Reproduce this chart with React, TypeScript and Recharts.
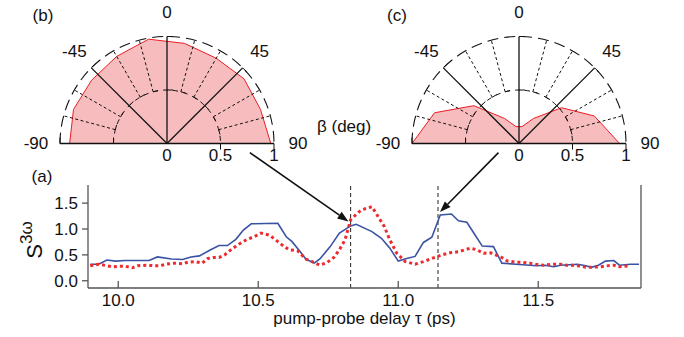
import React from "react";
import {
  LineChart,
  Line,
  XAxis,
  YAxis,
  ReferenceLine,
  RadarChart,
  Radar,
  PolarAngleAxis,
  PolarRadiusAxis,
  Customized,
} from "recharts";

const FONT = '"Liberation Sans", Arial, Helvetica, sans-serif';

// (a) S^3w versus pump-probe delay
const blueTau = [
  9.9, 9.93, 9.96, 9.99, 10.025, 10.11, 10.14, 10.19, 10.23, 10.26, 10.29, 10.33, 10.36, 10.39, 10.42,
  10.447, 10.475, 10.57, 10.6, 10.62, 10.65, 10.67, 10.7, 10.72, 10.757, 10.79, 10.83, 10.85, 10.906,
  10.94, 10.97, 11.0, 11.03, 11.06, 11.09, 11.12, 11.15, 11.19, 11.215, 11.245, 11.275, 11.3, 11.34,
  11.37, 11.42, 11.495, 11.525, 11.555, 11.58, 11.64, 11.67, 11.69, 11.715, 11.74, 11.77, 11.79, 11.83,
  11.86,
];
const blueS = [
  0.32, 0.32, 0.4, 0.38, 0.39, 0.39, 0.46, 0.42, 0.41, 0.46, 0.48, 0.6, 0.68, 0.68, 0.8,
  0.98, 1.1, 1.11, 0.85, 0.76, 0.56, 0.42, 0.34, 0.42, 0.66, 0.92, 1.06, 1.09, 0.95,
  0.82, 0.63, 0.38, 0.43, 0.47, 0.74, 0.84, 1.27, 1.29, 1.16, 1.13, 0.88, 0.67, 0.66,
  0.34, 0.32, 0.29, 0.3, 0.27, 0.3, 0.32, 0.29, 0.26, 0.3, 0.38, 0.39, 0.3, 0.32,
  0.32,
];
const redTau = [
  9.9, 9.93, 9.96, 9.98, 10.0, 10.025, 10.05, 10.07, 10.1, 10.13, 10.15, 10.17, 10.2, 10.23, 10.25,
  10.275, 10.3, 10.32, 10.34, 10.36, 10.38, 10.405, 10.435, 10.46, 10.485, 10.51, 10.54, 10.56, 10.59,
  10.61, 10.64, 10.67, 10.7, 10.72, 10.745, 10.77, 10.79, 10.81, 10.83, 10.86, 10.87, 10.906, 10.92,
  10.95, 10.97, 10.995, 11.025, 11.06, 11.09, 11.12, 11.155, 11.185, 11.215, 11.257, 11.28, 11.305,
  11.33, 11.37, 11.39, 11.42, 11.44, 11.47, 11.49, 11.52, 11.55, 11.58, 11.6, 11.62, 11.65, 11.67,
  11.69, 11.72, 11.74, 11.77, 11.79, 11.82,
];
const redS = [
  0.29, 0.32, 0.29, 0.27, 0.28, 0.28, 0.25, 0.29, 0.3, 0.29, 0.29, 0.32, 0.34, 0.33, 0.36,
  0.37, 0.34, 0.43, 0.45, 0.45, 0.5, 0.61, 0.72, 0.8, 0.85, 0.92, 0.88, 0.8, 0.67,
  0.6, 0.58, 0.42, 0.35, 0.3, 0.35, 0.45, 0.6, 0.79, 1.18, 1.33, 1.37, 1.43, 1.31,
  1.05, 0.79, 0.53, 0.37, 0.32, 0.37, 0.43, 0.5, 0.54, 0.56, 0.63, 0.6, 0.53,
  0.54, 0.45, 0.38, 0.36, 0.355, 0.34, 0.32, 0.3, 0.32, 0.32, 0.3, 0.3, 0.285, 0.26,
  0.26, 0.27, 0.285, 0.3, 0.27, 0.285,
];

const tauTicks = [10, 10.5, 11, 11.5];
const sTicks = [0, 0.5, 1, 1.5];
const markerTau = [10.83, 11.142];

// arrows: from the polar panels down to the two markers (tau, S)
const arrowFrom = [
  { x: 10.47, y: 2.475 },
  { x: 11.358, y: 2.475 },
];
const arrowTo = [
  { x: 10.822, y: 1.147 },
  { x: 11.149, y: 1.326 },
];

// (b), (c) polar amplitude vs beta
const betaDeg = [-90, -70, -50, -30, -10, 10, 30, 50, 70, 90];
const ampB = [0.91, 0.93, 0.92, 0.94, 0.99, 0.95, 0.92, 0.94, 0.93, 0.97];
const ampC = [1.0, 0.84, 0.55, 0.27, 0.16, 0.16, 0.27, 0.52, 0.75, 0.94];
const betaTicks = [-90, -45, 0, 45, 90];
const radiusTicks = [0, 0.5, 1];

const blueData = blueTau.map((t, i) => ({ t, s: blueS[i] }));
const redData = redTau.map((t, i) => ({ t, s: redS[i] }));
const polarB = betaDeg.map((beta, i) => ({ beta, r: ampB[i] }));
const polarC = betaDeg.map((beta, i) => ({ beta, r: ampC[i] }));

const R = 107;
const CY = 143.5;

const ArrowShape = (p: any) => {
  const { x1, y1, x2, y2 } = p;
  const a = Math.atan2(y2 - y1, x2 - x1);
  const len = 11;
  const w = 4;
  const bx = x2 - len * Math.cos(a);
  const by = y2 - len * Math.sin(a);
  const px = -Math.sin(a) * w;
  const py = Math.cos(a) * w;
  return (
    <g>
      <line x1={x1} y1={y1} x2={bx} y2={by} stroke="#111" strokeWidth={1.6} />
      <polygon points={`${x2},${y2} ${bx + px},${by + py} ${bx - px},${by - py}`} fill="#111" />
    </g>
  );
};

const Annotations = () => (
  <g fontFamily={FONT} fill="#111">
    <text x={43} y={15} fontSize={17} textAnchor="middle" dy="0.35em">(b)</text>
    <text x={397} y={15} fontSize={17} textAnchor="middle" dy="0.35em">(c)</text>
    <text x={42} y={176} fontSize={17} textAnchor="middle" dy="0.35em">(a)</text>
    <text x={317} y={126} fontSize={17} dy="0.35em">β (deg)</text>
    <text transform="translate(42, 240) rotate(-90)" textAnchor="middle" fontSize={22}>
      S<tspan dy={-10} fontSize={17}>3ω</tspan>
    </text>
  </g>
);

// polar grid: dashed rings, solid radial axes with ticks, dashed 15 deg grid lines
const PolarFrame = ({ cx, cy, r }: { cx: number; cy: number; r: number }) => {
  const pt = (b: number, rad: number) => {
    const t = (b * Math.PI) / 180;
    return [cx + rad * Math.sin(t), cy - rad * Math.cos(t)];
  };
  const arc = (rad: number) => `M ${cx - rad} ${cy} A ${rad} ${rad} 0 0 1 ${cx + rad} ${cy}`;
  const tick = (b: number, rad: number, len: number, key: string) => {
    const [x, y] = pt(b, rad);
    const t = (b * Math.PI) / 180;
    return <line key={key} x1={x} y1={y} x2={x + len * Math.cos(t)} y2={y + len * Math.sin(t)} stroke="#111" strokeWidth={1} />;
  };
  const solid = [-90, -45, 0, 45, 90];
  const dashed = [-75, -60, -30, -15, 15, 30, 60, 75];
  return (
    <g>
      <path d={arc(r)} fill="none" stroke="#111" strokeWidth={1.1} strokeDasharray="11 6" />
      <path d={arc(r / 2)} fill="none" stroke="#111" strokeWidth={1} strokeDasharray="5 5" />
      {dashed.map((b) => {
        const [x1, y1] = pt(b, r / 2);
        const [x2, y2] = pt(b, r);
        return <line key={`d${b}`} x1={x1} y1={y1} x2={x2} y2={y2} stroke="#111" strokeWidth={1} strokeDasharray="3 2.5" />;
      })}
      {dashed.map((b) => tick(b, r / 2, 5, `dt${b}`))}
      {solid.map((b) => {
        const [x2, y2] = pt(b, r);
        return <line key={`s${b}`} x1={cx} y1={cy} x2={x2} y2={y2} stroke="#111" strokeWidth={1.3} />;
      })}
      {solid.map((b) => tick(b, r / 2, 6, `t1${b}`))}
      {solid.map((b) => tick(b, r, 6, `t2${b}`))}
    </g>
  );
};

// radar polygon with the polar grid drawn over it
const RadarWithFrame = (p: any) => {
  const pts = (p.points || []).map((q: any) => `${q.x},${q.y}`).join(" ");
  return (
    <g>
      <polygon points={pts} fill="#f7bcbd" stroke="#ec1c24" strokeWidth={1} strokeLinejoin="round" />
      <PolarFrame cx={p.frameCx} cy={CY} r={R} />
    </g>
  );
};

const AngleTick = (p: any) => (
  <text x={p.x} y={p.y} dy="0.35em" textAnchor="middle" fontSize={17} fontFamily={FONT} fill="#111">
    {p.payload.value}
  </text>
);

const RadiusTick = (p: any) => (
  <text x={p.x} y={p.y + 12} dy="0.35em" textAnchor="middle" fontSize={17} fontFamily={FONT} fill="#111">
    {p.payload.value}
  </text>
);

const PolarPanel = ({ data, cx, width }: { data: any[]; cx: number; width: number }) => (
  <RadarChart
    width={width}
    height={170}
    data={data}
    cx={cx}
    cy={CY}
    innerRadius={0}
    outerRadius={R}
    startAngle={180}
    endAngle={0}
    margin={{ top: 0, right: 0, bottom: 0, left: 0 }}
  >
    <PolarAngleAxis
      dataKey="beta"
      type="number"
      domain={[-90, 90]}
      ticks={betaTicks}
      axisLine={false}
      tickLine={false}
      tickSize={24}
      tick={AngleTick}
    />
    <PolarRadiusAxis
      angle={0}
      type="number"
      domain={[0, 1]}
      ticks={radiusTicks}
      tickCount={3}
      axisLine={false}
      tickLine={false}
      tick={RadiusTick}
    />
    <Radar
      dataKey="r"
      stroke="#ec1c24"
      fill="#f7bcbd"
      fillOpacity={1}
      isAnimationActive={false}
      shape={(p: any) => <RadarWithFrame {...p} frameCx={cx} />}
    />
  </RadarChart>
);

const axisColor = "#555";
const tickStyle = { fontSize: 17, fontFamily: FONT, fill: "#111" };
const noLabel = () => <g />;

export default function App() {
  return (
    <div style={{ position: "absolute", left: 0, top: 0, width: 684, height: 337, background: "#fff" }}>
      <div style={{ position: "absolute", left: 0, top: 0 }}>
        <LineChart width={684} height={337} margin={{ top: 185, right: 38, bottom: 9, left: 48 }}>
          <XAxis
            xAxisId="top"
            orientation="top"
            type="number"
            dataKey="t"
            domain={[9.892, 11.867]}
            ticks={tauTicks}
            height={0}
            tick={noLabel}
            tickSize={-7}
            stroke={axisColor}
            strokeWidth={1.3}
          />
          <XAxis
            type="number"
            dataKey="t"
            domain={[9.892, 11.867]}
            ticks={tauTicks}
            tickFormatter={(v) => v.toFixed(1)}
            height={40}
            tickSize={-7}
            tickMargin={13}
            stroke={axisColor}
            strokeWidth={1.3}
            tick={tickStyle}
            label={{ value: "pump-probe delay τ (ps)", position: "insideBottom", offset: 4, fontSize: 17, fontFamily: FONT, fill: "#111" }}
          />
          <YAxis
            type="number"
            domain={[-0.14, 1.85]}
            ticks={sTicks}
            tickFormatter={(v) => v.toFixed(1)}
            width={40}
            tickSize={6}
            tickMargin={4}
            stroke={axisColor}
            strokeWidth={1.3}
            tick={tickStyle}
          />
          <YAxis
            yAxisId="r"
            orientation="right"
            type="number"
            domain={[-0.14, 1.85]}
            ticks={sTicks}
            width={5}
            tick={noLabel}
            tickSize={5}
            stroke={axisColor}
            strokeWidth={1.3}
          />
          {markerTau.map((t) => (
            <ReferenceLine key={t} x={t} stroke="#222" strokeWidth={1} strokeDasharray="4 3" />
          ))}
          <Line data={blueData} dataKey="s" type="linear" stroke="#3953a4" strokeWidth={1.6} dot={false} isAnimationActive={false} />
          <Line data={redData} dataKey="s" type="linear" stroke="#ee2a2e" strokeWidth={3} strokeDasharray="3 3" dot={false} isAnimationActive={false} />
          {arrowFrom.map((a, i) => (
            <ReferenceLine key={`arrow${i}`} segment={[a, arrowTo[i]]} ifOverflow="visible" shape={ArrowShape} />
          ))}
          <Customized component={<Annotations />} />
        </LineChart>
      </div>
      <div style={{ position: "absolute", left: 0, top: 0 }}>
        <PolarPanel data={polarB} cx={167} width={340} />
      </div>
      <div style={{ position: "absolute", left: 340, top: 0 }}>
        <PolarPanel data={polarC} cx={179} width={344} />
      </div>
    </div>
  );
}
